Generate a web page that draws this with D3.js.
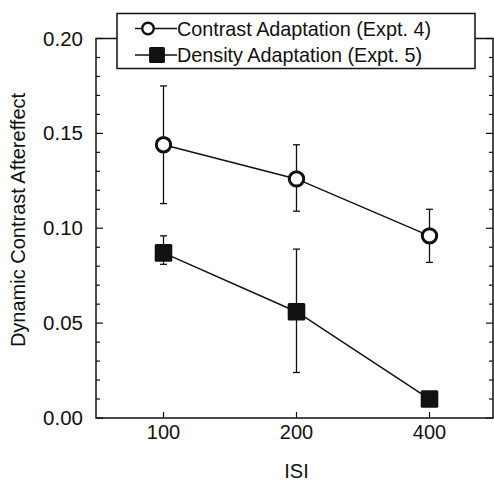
<!DOCTYPE html>
<html lang="en">
  <head>
    <meta charset="UTF-8" />
    <title>Dynamic Contrast Aftereffect vs ISI</title>
    <script src="https://d3js.org/d3.v7.min.js"></script>
    <style>
      body { margin: 0; background: #fff; }
      text { font-family: "Liberation Sans", Arial, sans-serif; fill: #111; }
    </style>
  </head>

  <body>
    <svg width="494" height="481"></svg>

    <script>
      // data
      const isiLabels = ["100", "200", "400"];
      const contrastMean = [0.144, 0.126, 0.096];
      const contrastHi = [0.175, 0.144, 0.110];
      const contrastLo = [0.113, 0.109, 0.082];
      const densityMean = [0.087, 0.056, 0.010];
      const densityHi = [0.096, 0.089, 0.010];
      const densityLo = [0.081, 0.024, 0.010];
      const yTicks = [0.0, 0.05, 0.1, 0.15, 0.2];
      const legendNames = ["Contrast Adaptation (Expt. 4)", "Density Adaptation (Expt. 5)"];

      let svg = d3.select("svg");

      const plotL = 96, plotR = 493, plotT = 38.5, plotB = 418;

      let x = d3.scalePoint().domain(isiLabels).range([97, 496]).padding(0.5);
      let y = d3.scaleLinear().domain([0, 0.2]).range([plotB, plotT]);

      let series = [
        { name: legendNames[0], mean: contrastMean, hi: contrastHi, lo: contrastLo, shape: "circle" },
        { name: legendNames[1], mean: densityMean, hi: densityHi, lo: densityLo, shape: "square" }
      ];

      // frame
      svg.append("rect")
        .attr("x", plotL).attr("y", plotT)
        .attr("width", plotR - plotL).attr("height", plotB - plotT)
        .attr("fill", "none").attr("stroke", "#111").attr("stroke-width", 1.5);

      // y ticks (inside, both sides)
      let minor = d3.range(0, 0.2001, 0.01);
      minor.forEach(function (v) {
        let major = Math.abs(v / 0.05 - Math.round(v / 0.05)) < 1e-6;
        let len = major ? 7 : 4;
        svg.append("line")
          .attr("x1", plotL).attr("x2", plotL + len)
          .attr("y1", y(v)).attr("y2", y(v))
          .attr("stroke", "#111").attr("stroke-width", 1.2);
        svg.append("line")
          .attr("x1", plotR).attr("x2", plotR - len)
          .attr("y1", y(v)).attr("y2", y(v))
          .attr("stroke", "#111").attr("stroke-width", 1.2);
      });

      svg.append("g").selectAll("text")
        .data(yTicks).enter().append("text")
        .attr("x", 83).attr("y", function (d) { return y(d) + 7; })
        .attr("text-anchor", "end")
        .attr("font-size", "20.5px")
        .text(function (d) { return d3.format(".2f")(d); });

      // x ticks
      svg.append("g").selectAll("line")
        .data(isiLabels).enter().append("line")
        .attr("x1", function (d) { return x(d); })
        .attr("x2", function (d) { return x(d); })
        .attr("y1", plotB).attr("y2", plotB - 6)
        .attr("stroke", "#111").attr("stroke-width", 1.2);

      svg.append("g").selectAll("text")
        .data(isiLabels).enter().append("text")
        .attr("x", function (d) { return x(d); })
        .attr("y", 439)
        .attr("text-anchor", "middle")
        .attr("font-size", "20px")
        .text(function (d) { return d; });

      svg.append("text")
        .attr("x", x("200")).attr("y", 478)
        .attr("text-anchor", "middle")
        .attr("font-size", "20px")
        .text("ISI");

      svg.append("text")
        .attr("transform", "translate(25,220) rotate(-90)")
        .attr("text-anchor", "middle")
        .attr("font-size", "20px")
        .text("Dynamic Contrast Aftereffect");

      function drawMarker(g, shape, cx, cy, k) {
        if (shape === "circle") {
          g.append("circle")
            .attr("cx", cx).attr("cy", cy).attr("r", 7.2 * k)
            .attr("fill", "#fff").attr("stroke", "#111").attr("stroke-width", 3 * k);
        } else {
          g.append("rect")
            .attr("x", cx - 8.8 * k).attr("y", cy - 8.8 * k)
            .attr("width", 17.6 * k).attr("height", 17.6 * k).attr("rx", 1.5)
            .attr("fill", "#111");
        }
      }

      let line = d3.line()
        .x(function (d, i) { return x(isiLabels[i]); })
        .y(function (d) { return y(d); });

      series.forEach(function (s) {
        let g = svg.append("g");
        // error bars
        isiLabels.forEach(function (lab, i) {
          if (s.hi[i] === s.lo[i]) return;
          let cx = x(lab);
          g.append("line")
            .attr("x1", cx).attr("x2", cx)
            .attr("y1", y(s.hi[i])).attr("y2", y(s.lo[i]))
            .attr("stroke", "#111").attr("stroke-width", 1.3);
          [s.hi[i], s.lo[i]].forEach(function (v) {
            g.append("line")
              .attr("x1", cx - 3.5).attr("x2", cx + 3.5)
              .attr("y1", y(v)).attr("y2", y(v))
              .attr("stroke", "#111").attr("stroke-width", 1.3);
          });
        });
        g.append("path")
          .attr("d", line(s.mean))
          .attr("fill", "none").attr("stroke", "#111").attr("stroke-width", 1.5);
        s.mean.forEach(function (v, i) {
          drawMarker(g, s.shape, x(isiLabels[i]), y(v), 1);
        });
      });

      // legend
      let lg = svg.append("g");
      lg.append("rect")
        .attr("x", 117).attr("y", 13.5)
        .attr("width", 358).attr("height", 55)
        .attr("fill", "#fff").attr("stroke", "#111").attr("stroke-width", 1.5);
      let markerX = [148, 157];
      series.forEach(function (s, i) {
        let ly = 28.5 + i * 26.5;
        lg.append("line")
          .attr("x1", 135).attr("x2", 177)
          .attr("y1", ly).attr("y2", ly)
          .attr("stroke", "#111").attr("stroke-width", 1.5);
        drawMarker(lg, s.shape, markerX[i], ly, s.shape === "circle" ? 0.8 : 0.9);
        lg.append("text")
          .attr("x", 177).attr("y", ly + 7)
          .attr("font-size", "19.8px")
          .text(s.name);
      });
    </script>
  </body>
</html>
